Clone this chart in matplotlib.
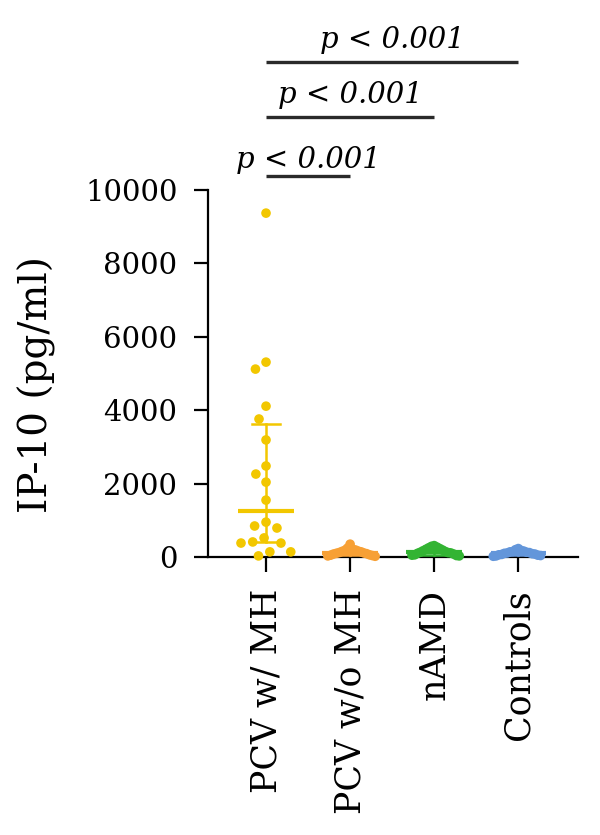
import matplotlib

matplotlib.use("Agg")

import matplotlib.pyplot as plt
import numpy as np

plt.rcParams["font.family"] = ["DejaVu Serif"]

groups = ["PCV w/ MH", "PCV w/o MH", "nAMD", "Controls"]
colors = ["#F2C700", "#F7A035", "#33B433", "#6396DA"]

pcv_mh = [9370, 5310, 5120, 4110, 3760, 3190, 2480, 2260, 2040, 1550,
          950, 845, 790, 520, 410, 380, 380, 140, 140, 30]
pcv_no_mh = [350, 240, 210, 190, 180, 160, 150, 140, 120, 110, 100, 90,
             80, 60, 50, 40, 30, 20]
namd = [310, 290, 270, 250, 230, 210, 190, 170, 150, 130, 120, 110, 100,
        80, 60, 50, 40, 30]
controls = [230, 200, 180, 160, 150, 140, 130, 120, 110, 100, 90, 80, 70,
            60, 50, 40, 30, 20]
values = [pcv_mh, pcv_no_mh, namd, controls]

# median and interquartile range shown as lines
medians = [1250, 110, 130, 100]
upper = [3620, 180, 230, 150]
lower = [400, 50, 60, 50]

comparisons = [(0, 1), (0, 2), (0, 3)]
p_labels = ["p < 0.001", "p < 0.001", "p < 0.001"]


def swarm_offsets(vals, px_per_unit, dot_px, max_px):
    # highest values first so the clumps peak in the middle
    order = np.argsort(-vals, kind="stable")
    placed = []
    offsets = np.zeros(len(vals))
    for idx in order:
        y = vals[idx] * px_per_unit
        near = [(x, yy) for x, yy in placed if abs(yy - y) < dot_px]
        candidates = [0.0]
        for x, yy in near:
            dx = np.sqrt(dot_px ** 2 - (yy - y) ** 2)
            candidates += [x - dx, x + dx]
        best = None
        for c in sorted(candidates, key=lambda v: (abs(v), v)):
            ok = all(
                (c - x) ** 2 + (y - yy) ** 2 >= dot_px ** 2 - 1e-6
                for x, yy in near
            )
            if ok:
                best = c
                break
        placed.append((best, y))
        offsets[idx] = best
    widest = np.max(np.abs(offsets))
    if widest > max_px:
        offsets = offsets * max_px / widest
    return offsets


figure = plt.figure(figsize=(6, 8.35), dpi=100)
axis = figure.add_axes([208 / 600, 1 - 557 / 835, 370 / 600, 367 / 835])

axis.set_xlim(-0.69, 3.71)
axis.set_ylim(0, 10000)

px_per_unit = 367 / 10000
px_per_cat = 84

for i, vals in enumerate(values):
    vals = np.asarray(vals, dtype=float)
    offs = swarm_offsets(vals, px_per_unit, 16.0, 25.0) / px_per_cat
    axis.plot([i - 0.33, i + 0.33], [medians[i]] * 2, color=colors[i],
              linewidth=3, solid_capstyle="butt", zorder=2, clip_on=False)
    axis.plot([i, i], [lower[i], upper[i]], color=colors[i],
              linewidth=1.8, zorder=2, clip_on=False)
    for cap in (lower[i], upper[i]):
        axis.plot([i - 0.17, i + 0.17], [cap] * 2, color=colors[i],
                  linewidth=1.8, zorder=2, clip_on=False)
    axis.scatter(i + offs, vals, s=48, color=colors[i], edgecolor="none",
                 zorder=3, clip_on=False)

axis.spines["top"].set_visible(False)
axis.spines["right"].set_visible(False)
axis.spines["left"].set_linewidth(1.6)
axis.spines["bottom"].set_linewidth(1.6)
axis.spines["bottom"].set_zorder(1)

axis.set_yticks([0, 2000, 4000, 6000, 8000, 10000])
axis.set_xticks(range(len(groups)))
axis.set_xticklabels(groups, rotation=90, fontsize=25)
axis.tick_params(axis="y", labelsize=21, length=10, width=1.6, pad=12)
axis.tick_params(axis="x", length=11, width=1.6, pad=12)

axis.set_ylabel("IP-10 (pg/ml)", fontsize=28)
axis.yaxis.set_label_coords(-0.41, 0.47)

bar_heights = [10380, 11990, 13490]
text_gaps = [220, 390, 390]
for (a, b), h, gap, label in zip(comparisons, bar_heights, text_gaps, p_labels):
    axis.plot([a, b], [h, h], color="#2a2a2a", linewidth=2.4,
              clip_on=False, solid_capstyle="butt")
    axis.text((a + b) / 2, h + gap, label, ha="center", va="baseline",
              fontsize=21, style="italic", clip_on=False)

figure.savefig("out.png", dpi=100)
plt.close(figure)
